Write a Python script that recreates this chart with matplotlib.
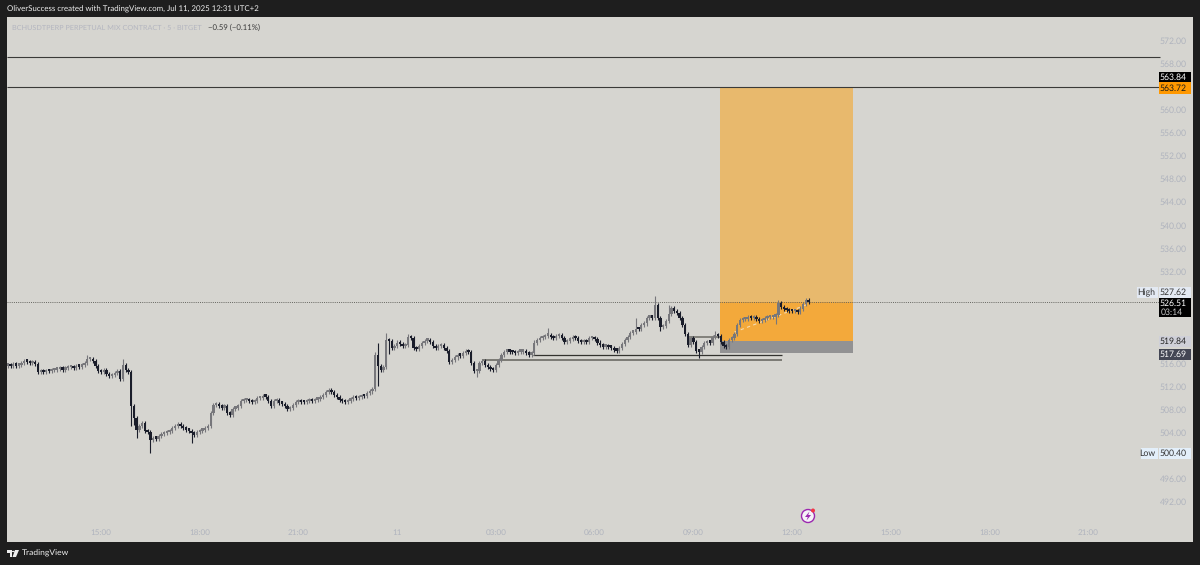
import matplotlib
matplotlib.use("Agg")
import matplotlib.pyplot as plt
from matplotlib.patches import Rectangle, Circle, Polygon, Ellipse

W, H = 1200, 565
open_first = 515.5
closes = [
    515.6,515.4,515.7,515.5,515.6,515.9,516.3,516.2,515.9,516.1,515.7,514.4,
    514.5,514.4,514.6,514.5,514.7,514.8,514.9,515.0,514.8,515.0,515.2,515.3,
    515.1,515.4,515.3,515.6,515.9,516.6,516.7,516.3,515.4,514.6,514.4,514.7,
    514.0,513.7,513.8,514.2,514.5,513.1,515.6,514.7,514.4,508.4,506.4,504.4,
    505.0,505.5,504.2,503.9,502.6,503.0,502.8,503.3,503.6,503.8,503.9,504.2,
    504.6,505.0,505.3,505.0,504.6,504.4,504.2,503.8,503.5,503.9,504.2,504.3,
    504.6,505.0,507.2,508.6,508.9,508.4,508.2,508.4,507.3,507.0,508.0,508.2,
    508.4,509.3,509.5,509.6,509.3,509.2,509.4,509.8,509.9,510.3,510.1,509.3,
    508.4,509.3,509.5,509.0,508.9,508.5,507.9,508.2,508.6,509.2,509.4,509.2,
    509.1,509.3,509.5,509.3,509.6,509.7,510.0,510.4,510.9,511.2,510.9,510.4,
    510.0,509.6,509.3,509.2,509.4,509.7,510.0,509.9,510.0,510.3,510.2,510.7,
    511.0,511.5,517.3,515.5,514.7,515.2,519.9,519.7,518.5,518.9,519.5,519.2,
    518.9,519.1,520.4,520.3,518.6,518.4,518.9,519.4,519.8,519.9,519.6,518.9,
    518.5,518.9,519.0,518.5,518.0,516.1,516.4,516.9,517.3,517.2,517.6,518.1,
    517.8,516.0,514.5,514.6,515.9,516.3,515.6,515.2,514.9,514.7,515.6,516.4,
    517.3,517.9,518.1,517.9,517.8,517.7,517.9,517.9,518.0,517.7,517.4,517.6,
    519.5,519.9,520.2,520.4,520.7,520.8,520.4,520.3,520.6,520.8,520.2,519.6,
    519.8,520.1,520.4,520.3,519.8,519.6,519.8,519.6,520.2,520.3,520.1,519.5,
    519.1,518.8,518.9,518.7,518.6,518.2,518.1,518.5,519.2,519.9,520.5,521.2,
    521.4,521.9,521.8,522.5,522.8,523.8,524.0,523.8,526.0,523.7,522.2,522.4,
    523.3,524.4,525.5,525.0,524.6,523.7,522.6,520.9,519.0,520.3,519.6,518.0,
    517.9,518.7,519.4,519.6,519.5,520.4,520.8,520.6,519.6,518.9,518.7,520.0,
    520.3,520.9,522.5,523.4,523.5,523.6,524.0,523.7,523.9,523.5,523.2,523.4,
    523.7,523.9,523.9,524.0,524.2,526.3,525.6,525.3,525.1,525.0,524.9,524.9,
    524.8,525.4,526.2,526.8,526.51,
]
high_idx = [29, 42, 134, 135, 138, 146, 197, 229, 236, 241, 281, 258]
high_val = [517.3, 516.7, 517.8, 519.4, 521.2, 521.0, 522.0, 523.7, 527.62, 526.0, 526.9, 521.5]
low_idx = [41, 45, 46, 47, 52, 67, 171, 238, 252, 280, 135, 139]
low_val = [512.9, 505.0, 505.2, 503.0, 500.4, 502.1, 513.5, 521.5, 516.8, 522.7, 512.0, 517.5]
wick_extra = 0.35

tick_idx = [34, 70, 106, 142, 178, 214, 250, 286, 322, 358, 394]
tick_lab = ["15:00", "18:00", "21:00", "11", "03:00", "06:00", "09:00", "12:00", "15:00", "18:00", "21:00"]
price_ticks = [572, 568, 560, 556, 552, 548, 544, 540, 536, 532, 516, 512, 508, 504, 496, 492]

resist_a, resist_b = 569.05, 563.84
target, last_price, entry, stop = 563.72, 526.51, 519.84, 517.69
pos_left, pos_right = 259.7, 308.3

BG = "#1e1e1e"
PANE = "#d6d5d0"
UP = "#77777b"
DOWN = "#1a1d2a"
AXTXT = "#b0b4be"
plt.rcParams["font.family"] = ["Lato", "DejaVu Sans"]
plt.rcParams["text.hinting"] = "none"

fig = plt.figure(figsize=(W / 100, H / 100), dpi=100, facecolor=BG)
ax = fig.add_axes([7 / W, 1 - 542 / H, 1186 / W, 525 / H], facecolor=PANE)
ax.set_xlim(-0.28, 432.2)
ax.set_ylim(484.88, 575.99)
for s in ax.spines.values():
    s.set_visible(False)
ax.set_xticks([]); ax.set_yticks([])

# position rectangles
ax.add_patch(Rectangle((pos_left, last_price), pos_right - pos_left, target - last_price, color="#e8b96d", lw=0, zorder=1))
ax.add_patch(Rectangle((pos_left, entry), pos_right - pos_left, last_price - entry, color="#f3a93b", lw=0, zorder=1))
ax.add_patch(Rectangle((pos_left, stop), pos_right - pos_left, entry - stop, color="#929293", lw=0, zorder=1))

# horizontal levels
LINE_END = 420.0
ax.hlines([resist_a, resist_b], -0.28, LINE_END, color="#3a3a38", lw=0.8, zorder=2)
ax.hlines(last_price, -0.28, LINE_END, color="#666660", lw=0.7, linestyles=(0, (1, 1.2)), zorder=2)
ax.hlines(517.34, 191.5, 282.5, color="#33332f", lw=0.9, zorder=3)
ax.hlines(516.55, 173.0, 282.5, color="#74736d", lw=1.3, zorder=3)
ax.hlines(520.5, 248.5, 260.0, color="#74736d", lw=1.2, zorder=3)
ax.plot([265, 291], [521.3, 526.0], color="#f3dcb4", lw=0.8, ls=(0, (3, 3)), zorder=3)

# candles
opens = [open_first] + closes[:-1]
highs = [max(o, c) + wick_extra for o, c in zip(opens, closes)]
lows = [min(o, c) - wick_extra for o, c in zip(opens, closes)]
for i, v in zip(high_idx, high_val):
    highs[i] = v
for i, v in zip(low_idx, low_val):
    lows[i] = v
for i, (o, c, h, l) in enumerate(zip(opens, closes, highs, lows)):
    col = UP if c >= o else DOWN
    ax.vlines(i, l, h, color=col, lw=0.8, zorder=4)
    ax.bar(i, max(abs(c - o), 0.4), bottom=min(o, c), width=0.85, color=col, lw=0, zorder=5)

# axis labels
for i, lab in zip(tick_idx, tick_lab):
    ax.text(i, 486.55, lab, ha="center", va="center", fontsize=5.9, color=AXTXT, zorder=6)
for p in price_ticks:
    fig.text(1187 / W, 1 - (41.5 + (572 - p) * 5.7625) / H, f"{p}.00", ha="right", va="center",
             fontsize=6.2, color=AXTXT, zorder=2)

def box(x0, y0, x1, y1, col):
    fig.add_artist(Rectangle((x0 / W, 1 - y1 / H), (x1 - x0) / W, (y1 - y0) / H, transform=fig.transFigure,
                             facecolor=col, edgecolor="none", zorder=5))

def txt(x, y, s, col, size=6.2, ha="right", **kw):
    fig.text(x / W, 1 - y / H, s, color=col, fontsize=size, ha=ha, va="center", zorder=6, **kw)

box(1159, 72, 1191, 82, "#000000"); txt(1187, 77.3, "563.84", "#ffffff")
box(1159, 82, 1191, 94, "#ff9800"); txt(1187, 88.3, "563.72", "#1a1a1a")
box(1137, 287, 1158, 298, "#e3e9f2"); txt(1155, 292.8, "High", "#333333")
box(1159, 287, 1191, 298, "#e3e9f2"); txt(1187, 292.8, "527.62", "#333333")
box(1159, 298, 1191, 317, "#000000"); txt(1187, 303.3, "526.51", "#ffffff"); txt(1183, 312.3, "03:14", "#c8c8c8")
box(1159, 336, 1191, 347, "#cfd0d8"); txt(1187, 341.8, "519.84", "#222222")
box(1159, 349, 1191, 359.5, "#434654"); txt(1187, 354.8, "517.69", "#ffffff")
box(1141, 448, 1158, 459, "#e3effa"); txt(1155, 453.8, "Low", "#333333")
box(1159, 448, 1191, 459, "#e3effa"); txt(1187, 453.8, "500.40", "#333333")

# header
txt(7, 9.3, "OliverSuccess created with TradingView.com, Jul 11, 2025 12:31 UTC+2", "#eeeeee", size=5.65, ha="left")
txt(12, 27.5, "BCHUSDTPERP PERPETUAL MIX CONTRACT · 5 · BITGET", "#b4b6c0", size=5.25, ha="left")
txt(208, 27.5, "−0.59 (−0.11%)", "#3a3a3a", size=5.6, ha="left")

# footer logo
txt(22, 553.5, "TradingView", "#eeeeee", size=6.1, ha="left")
def poly(pts, col, z=6):
    fig.add_artist(Polygon([(x / W, 1 - y / H) for x, y in pts], closed=True, transform=fig.transFigure,
                           facecolor=col, edgecolor="none", zorder=z))
poly([(7, 550), (12, 550), (12, 557), (10, 557), (10, 552.5), (7, 552.5)], "#eeeeee")
poly([(15, 550), (19, 550), (16, 557), (12.5, 557)], "#eeeeee")
fig.add_artist(Circle((13.3 / W, 1 - 551.5 / H), 0.0012, transform=fig.transFigure, facecolor="#eeeeee", edgecolor="none", zorder=6))

# lightning icon
fig.add_artist(Ellipse((808 / W, 1 - 516 / H), 13 / W, 13 / H, transform=fig.transFigure, facecolor="#f5f2f7", edgecolor="#9c27b0", lw=1.0, zorder=6))
poly([(809.5, 511.5), (805, 517), (807.8, 517), (806.5, 520.5), (811, 515), (808.2, 515)], "#9c27b0", 7)
fig.add_artist(Ellipse((813 / W, 1 - 510.5 / H), 4 / W, 4 / H, transform=fig.transFigure, facecolor="#f23645", edgecolor="none", zorder=8))

fig.savefig("out.png", dpi=100, facecolor=BG)
